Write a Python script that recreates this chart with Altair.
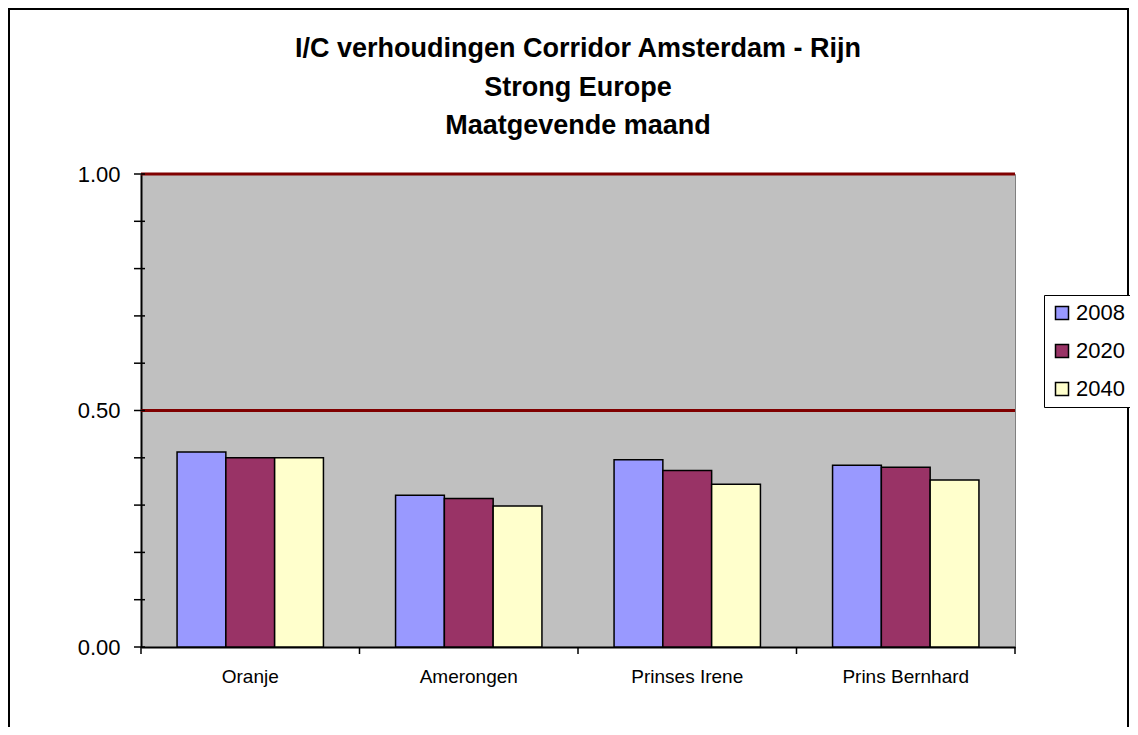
import altair as alt
import pandas as pd

stations = ["Oranje", "Amerongen", "Prinses Irene", "Prins Bernhard"]
years = ["2008", "2020", "2040"]
v2008 = [0.412, 0.321, 0.396, 0.384]
v2020 = [0.400, 0.314, 0.373, 0.380]
v2040 = [0.400, 0.298, 0.344, 0.353]
colors = ["#9999FF", "#993366", "#FFFFCC"]
tick_values = [0.0, 0.1, 0.2, 0.3, 0.4, 0.5, 0.6, 0.7, 0.8, 0.9, 1.0]
label_values = [0.0, 0.5, 1.0]
grid_values = [0.5, 1.0]

rows = []
for yr, vals in zip(years, [v2008, v2020, v2040]):
    for s, v in zip(stations, vals):
        rows.append({"station": s, "year": yr, "value": v})
df = pd.DataFrame(rows)

W, H = 874, 473
FONT = "Liberation Sans"

xenc = alt.X("station:N", sort=stations,
             scale=alt.Scale(paddingInner=0, paddingOuter=0),
             axis=alt.Axis(title=None, ticks=False, labelAngle=0, labelFontSize=19,
                           labelPadding=20, labelColor="black", domainColor="black",
                           domainWidth=2, labelFont=FONT))
yenc = alt.Y("value:Q", scale=alt.Scale(domain=[0, 1], nice=False),
             axis=alt.Axis(title=None, values=label_values, format=".2f", ticks=False,
                           tickSize=0, grid=False, labelFontSize=22, labelPadding=21,
                           labelColor="black", domainColor="black", domainWidth=2,
                           labelFont=FONT))

bars = alt.Chart(df).mark_bar(stroke="black", strokeWidth=1.5).encode(
    x=xenc,
    xOffset=alt.XOffset("year:N", sort=years,
                        scale=alt.Scale(paddingOuter=0.739, paddingInner=0)),
    y=yenc,
    color=alt.Color("year:N", sort=years,
                    scale=alt.Scale(domain=years, range=colors),
                    legend=alt.Legend(title=None, orient="none", legendX=903, legendY=121,
                                      symbolType="square", symbolSize=169,
                                      symbolStrokeColor="black", symbolStrokeWidth=1.5,
                                      labelFontSize=22, labelFont=FONT, labelColor="black",
                                      labelOffset=3, rowPadding=16, padding=7,
                                      strokeColor="black", fillColor="white")),
)

grid = alt.Chart(pd.DataFrame({"v": grid_values})).mark_rule(
    color="#800000", strokeWidth=3).encode(y=alt.Y("v:Q"), x=alt.value(0), x2=alt.value(W))

yticks = alt.Chart(pd.DataFrame({"v": tick_values})).mark_rule(
    color="black", strokeWidth=1.5).encode(y=alt.Y("v:Q"), x=alt.value(-7), x2=alt.value(4))

xticks = alt.Chart(pd.DataFrame({"station": stations})).mark_rule(
    color="black", strokeWidth=1.5).encode(
    x=alt.X("station:N", sort=stations, bandPosition=0),
    y=alt.value(H), y2=alt.value(H + 7))

xtick_end = alt.Chart(pd.DataFrame({"station": [stations[-1]]})).mark_rule(
    color="black", strokeWidth=1.5).encode(
    x=alt.X("station:N", sort=stations, bandPosition=1),
    y=alt.value(H), y2=alt.value(H + 7))

frame = alt.Chart(pd.DataFrame({"a": [0]})).mark_rect(
    fillOpacity=0, stroke="black", strokeWidth=2).encode(
    x=alt.value(-132), x2=alt.value(987), y=alt.value(-165), y2=alt.value(600))

chart = alt.layer(grid, bars, yticks, xticks, xtick_end, frame).properties(
    width=W, height=H,
    background="white",
    title=alt.TitleParams(
        text=["I/C verhoudingen Corridor Amsterdam - Rijn", "Strong Europe", "Maatgevende maand"],
        fontSize=27, fontWeight="bold", font=FONT, lineHeight=38.5, anchor="middle",
        frame="group", offset=-132, color="black"),
    autosize=alt.AutoSizeParams(type="none"),
    padding={"left": 133, "top": 166, "right": 115, "bottom": 80},
).configure_view(fill="#C0C0C0", stroke="#808080", strokeWidth=1)

chart.save("out.html", embed_options={"renderer": "svg", "actions": False})
